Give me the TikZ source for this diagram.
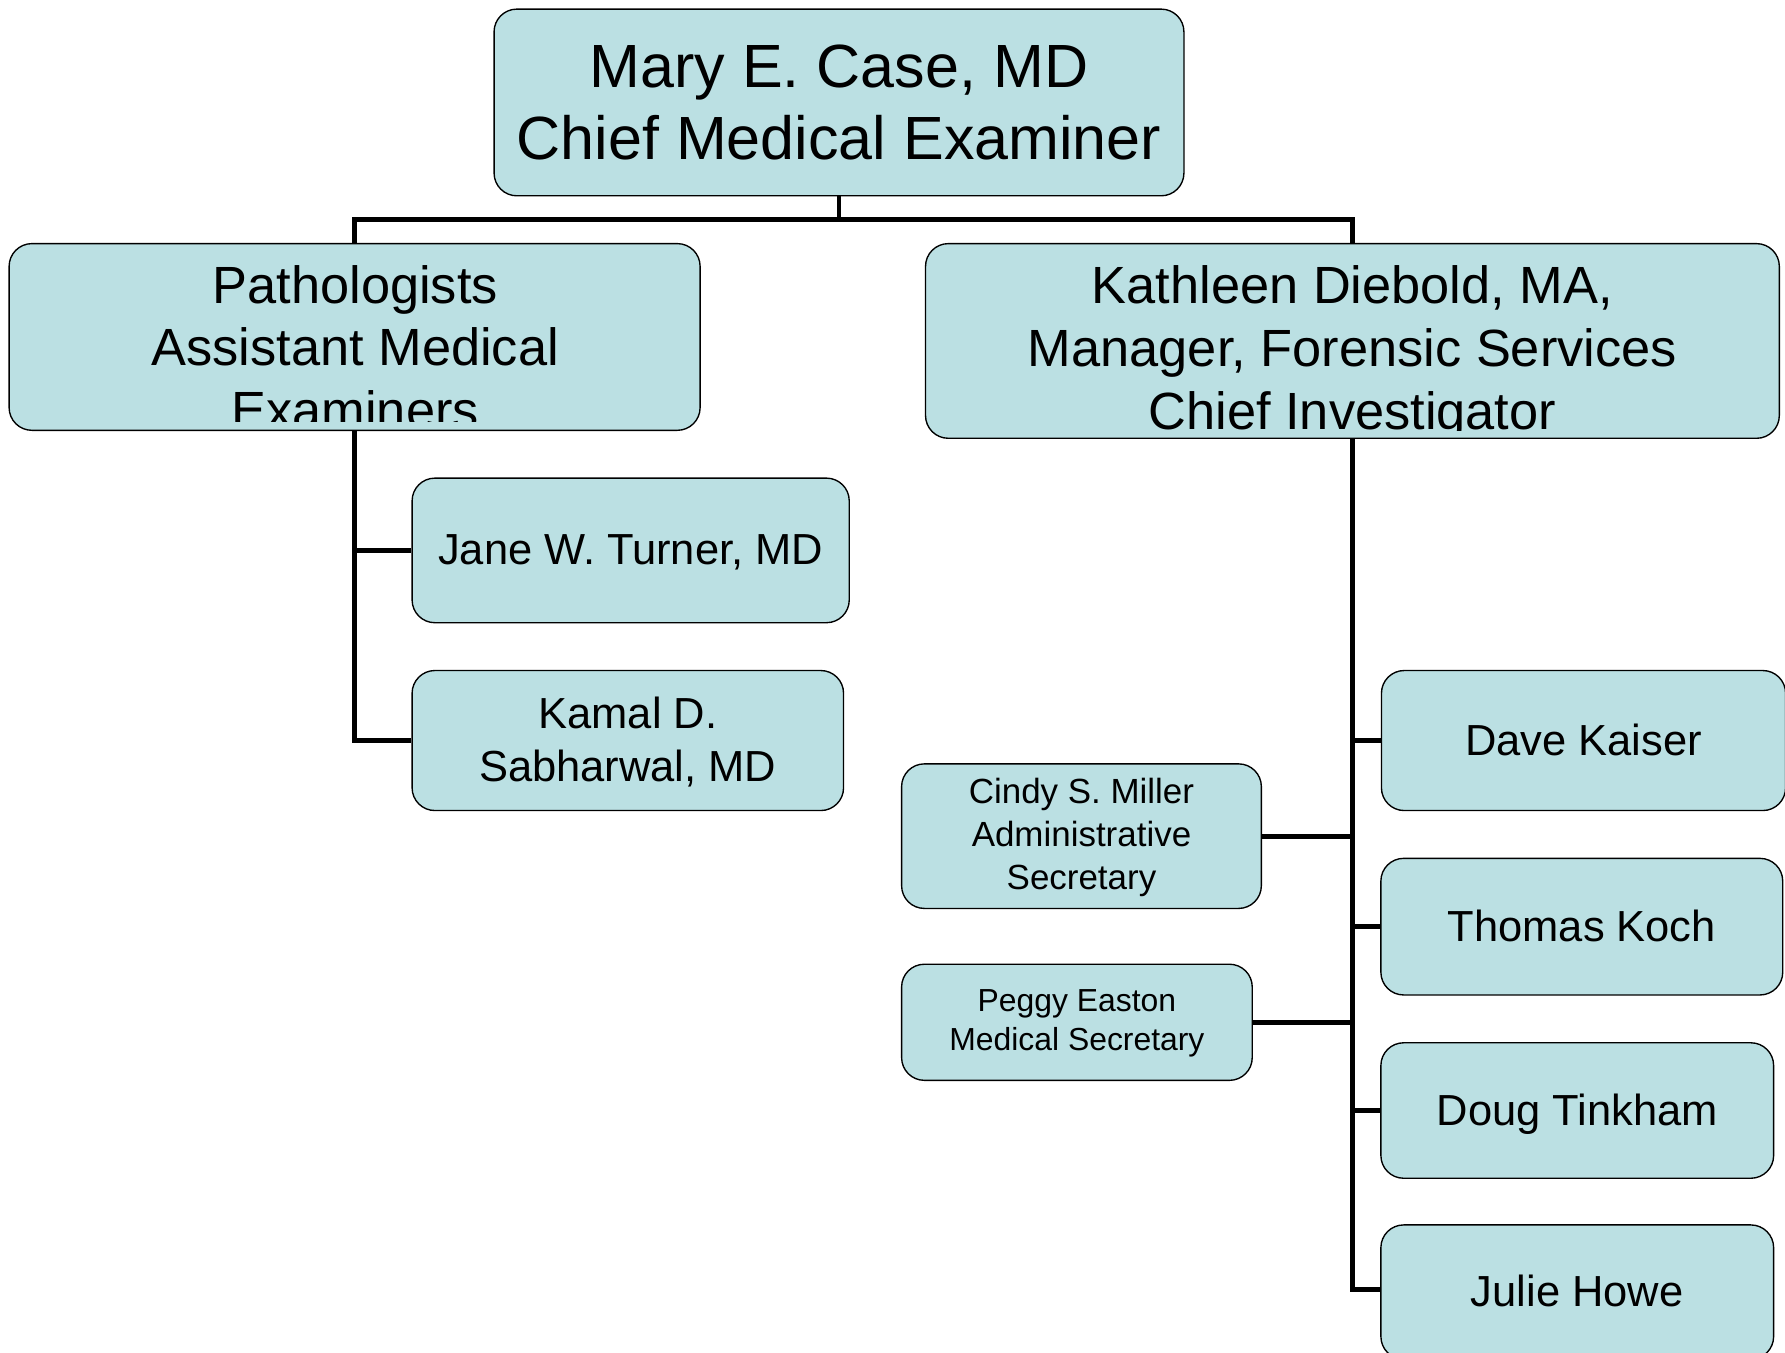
\documentclass[tikz,border=0pt]{standalone}
\usepackage{fontspec}
\setmainfont{Liberation Sans}
\definecolor{boxfill}{RGB}{187,224,227}
\tikzset{
  orgbox/.style={draw=black, line width=1.2pt, fill=boxfill, rounded corners=20pt, inner sep=0pt},
  link/.style={line width=4.2pt},
  bigtxt/.style={align=center, font=\fontsize{53.6}{64}\selectfont},
  midtxt/.style={align=center, font=\fontsize{46}{55}\selectfont},
  nametxt/.style={align=center, font=\fontsize{38.2}{47}\selectfont, text depth=2pt},
  secatxt/.style={align=center, font=\fontsize{30.7}{38}\selectfont, text depth=4pt},
  secbtxt/.style={align=center, font=\fontsize{28}{34}\selectfont, text depth=4pt}
}
\begin{document}
\begin{tikzpicture}[x=1pt,y=1pt,yscale=-1,xscale=1]
\useasboundingbox (0,0) rectangle (1568,1188.5);
%Shape: Rounded Rect [id:chief]
\node (chief) [orgbox, minimum width=606pt, minimum height=164pt, bigtxt] at (737,90) {Mary E. Case, MD\\Chief Medical Examiner};
%Shape: Rounded Rect [id:patho]
\node (patho) [orgbox, minimum width=607pt, minimum height=164pt] at (311.5,296) {};
%Shape: Rounded Rect [id:kath]
\node (kath) [orgbox, minimum width=750pt, minimum height=171pt] at (1188,299.5) {};
%Shape: Rounded Rect [id:jane]
\node (jane) [orgbox, minimum width=384pt, minimum height=127pt, nametxt] at (554,483.5) {Jane W. Turner, MD};
%Shape: Rounded Rect [id:kamal]
\node (kamal) [orgbox, minimum width=379pt, minimum height=123pt, nametxt] at (551.5,650.5) {Kamal D.\\Sabharwal, MD};
%Shape: Rounded Rect [id:dave]
\node (dave) [orgbox, minimum width=355pt, minimum height=123pt, nametxt] at (1391,650.5) {Dave Kaiser};
%Shape: Rounded Rect [id:thomas]
\node (thomas) [orgbox, minimum width=353pt, minimum height=120pt, nametxt] at (1389.5,814) {Thomas Koch};
%Shape: Rounded Rect [id:doug]
\node (doug) [orgbox, minimum width=345pt, minimum height=119pt, nametxt] at (1385.5,975.5) {Doug Tinkham};
%Shape: Rounded Rect [id:julie]
\node (julie) [orgbox, minimum width=345pt, minimum height=118pt, nametxt] at (1385.5,1135) {Julie Howe};
%Shape: Rounded Rect [id:cindy]
\node (cindy) [orgbox, minimum width=316pt, minimum height=127pt, secatxt] at (950,734.5) {Cindy S. Miller\\Administrative\\Secretary};
%Shape: Rounded Rect [id:peggy]
\node (peggy) [orgbox, minimum width=308pt, minimum height=102pt, secbtxt] at (946,898) {Peggy Easton\\Medical Secretary};
% Text Node (clipped at box bottom)
\begin{scope}
\clip (10,216) rectangle (613,370);
\node (pathotxt) [midtxt] at (312,305) {Pathologists\\Assistant Medical\\Examiners};
\end{scope}
% Text Node (clipped at box bottom)
\begin{scope}
\clip (815,216) rectangle (1561,378);
\node (kathtxt) [midtxt] at (1188,310) {Kathleen Diebold, MA,\\Manager, Forensic Services\\Chief Investigator};
\end{scope}
%Straight Lines
\coordinate (bus) at (737,193);
\draw [link] (chief.south) -- (bus);
\draw [link] (bus) -| (patho.north);
\draw [link] (bus) -| (kath.north);
%Straight Lines
\draw [link] (patho.south) |- (jane.west);
\draw [link] (patho.south) |- (kamal.west);
%Straight Lines
\draw [link] (kath.south) |- (dave.west);
\draw [link] (kath.south) |- (thomas.west);
\draw [link] (kath.south) |- (doug.west);
\draw [link] (kath.south) |- ([yshift=-2pt]julie.west);
\draw [link] (cindy.east) -- (cindy.east -| kath.south);
\draw [link] (peggy.east) -- (peggy.east -| kath.south);
\end{tikzpicture}
\end{document}
